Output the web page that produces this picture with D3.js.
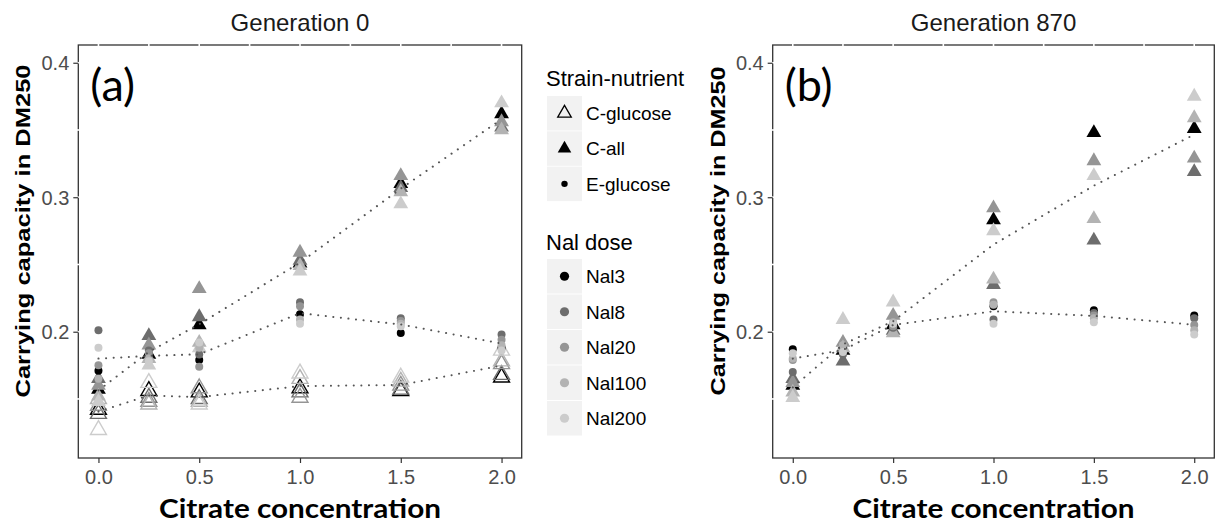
<!DOCTYPE html>
<html><head><meta charset="utf-8">
<script src="https://cdn.jsdelivr.net/npm/d3@7"></script>
<style>body{margin:0;background:#fff}svg{display:block}</style>
</head><body>
<svg id="c" width="1218" height="525"></svg>
<script>
// ---------------- data ----------------
const citrate = [0, 0.25, 0.5, 1.0, 1.5, 2.0];
const xTicks = [0, 0.5, 1.0, 1.5, 2.0];
const yTicks = [0.2, 0.3, 0.4];
const doses = ["Nal3", "Nal8", "Nal20", "Nal100", "Nal200"];
const doseColors = ["#000000", "#6d6d6d", "#959595", "#b3b3b3", "#cccccc"];
const strains = ["C-glucose", "C-all", "E-glucose"];
const panelTitles = ["Generation 0", "Generation 870"];
const panelTags = ["(a)", "(b)"];

// Generation 0
const g0_Cglucose = {
  Nal3:   [0.142, 0.156, 0.155, 0.158, 0.156, 0.166],
  Nal8:   [0.139, 0.151, 0.150, 0.155, 0.157, 0.168],
  Nal20:  [0.145, 0.148, 0.158, 0.151, 0.160, 0.176],
  Nal100: [0.150, 0.146, 0.148, 0.165, 0.163, 0.178],
  Nal200: [0.127, 0.162, 0.146, 0.169, 0.166, 0.186]
};
const g0_Call = {
  Nal3:   [0.157, 0.183, 0.205, 0.251, 0.310, 0.362],
  Nal8:   [0.165, 0.197, 0.211, 0.253, 0.307, 0.352],
  Nal20:  [0.160, 0.190, 0.232, 0.259, 0.316, 0.356],
  Nal100: [0.152, 0.180, 0.192, 0.249, 0.304, 0.350],
  Nal200: [0.148, 0.175, 0.188, 0.245, 0.295, 0.370]
};
const g0_Eglucose = {
  Nal3:   [0.171, 0.182, 0.179, 0.213, 0.199, 0.188],
  Nal8:   [0.201, 0.186, 0.183, 0.222, 0.210, 0.198],
  Nal20:  [0.175, 0.184, 0.174, 0.219, 0.208, 0.194],
  Nal100: [0.165, 0.180, 0.188, 0.209, 0.206, 0.190],
  Nal200: [0.188, 0.178, 0.192, 0.206, 0.204, 0.186]
};
// Generation 870
const g870_Call = {
  Nal3:   [0.160, 0.186, 0.205, 0.283, 0.348, 0.351],
  Nal8:   [0.165, 0.178, 0.201, 0.235, 0.268, 0.319],
  Nal20:  [0.162, 0.192, 0.212, 0.292, 0.327, 0.329],
  Nal100: [0.155, 0.188, 0.199, 0.239, 0.284, 0.359],
  Nal200: [0.151, 0.209, 0.222, 0.275, 0.316, 0.375]
};
const g870_Eglucose = {
  Nal3:   [0.187, 0.188, 0.205, 0.219, 0.216, 0.212],
  Nal8:   [0.170, 0.183, 0.203, 0.209, 0.214, 0.210],
  Nal20:  [0.179, 0.186, 0.204, 0.222, 0.212, 0.205],
  Nal100: [0.180, 0.190, 0.207, 0.220, 0.210, 0.201],
  Nal200: [0.184, 0.185, 0.206, 0.206, 0.207, 0.198]
};

const panelData = [
  [["C-glucose", g0_Cglucose], ["C-all", g0_Call], ["E-glucose", g0_Eglucose]],
  [["C-all", g870_Call], ["E-glucose", g870_Eglucose]]
];

// ---------------- layout ----------------
const svg = d3.select("#c");
const FONT = "'Liberation Sans', Arial, sans-serif";
const panels = [
  {x0: 78.3, x1: 521.7, ytitleX: 22, ytitleLen: 333},
  {x0: 772.7, x1: 1214.3, ytitleX: 717, ytitleLen: 329}
];
const yTop = 45, yBot = 458;
const y = d3.scaleLinear().domain([0.1061, 0.4132]).range([yBot, yTop]);
const color = d3.scaleOrdinal().domain(doses).range(doseColors);
const triPath = d3.symbol().type(d3.symbolTriangle).size(95)();
const triPathOpen = d3.symbol().type(d3.symbolTriangle).size(110)();
const gridX = d3.range(0, 2.01, 0.25);
const gridY = [0.15, 0.2, 0.25, 0.3, 0.35, 0.4];

function drawPoint(g, strain, cx, cy, col) {
  if (strain === "C-glucose") {
    g.append("path").attr("d", triPathOpen).attr("transform", `translate(${cx},${cy})`)
      .attr("fill", "none").attr("stroke", col).attr("stroke-width", 1.4);
  } else if (strain === "C-all") {
    g.append("path").attr("d", triPath).attr("transform", `translate(${cx},${cy})`)
      .attr("fill", col);
  } else {
    g.append("circle").attr("cx", cx).attr("cy", cy).attr("r", 4).attr("fill", col);
  }
}

panels.forEach((p, i) => {
  const x = d3.scaleLinear().domain([-0.1, 2.1]).range([p.x0, p.x1]);
  const g = svg.append("g");
  // border
  g.append("rect").attr("x", p.x0).attr("y", yTop).attr("width", p.x1 - p.x0).attr("height", yBot - yTop)
    .attr("fill", "#fff").attr("stroke", "#333").attr("stroke-width", 1.3);
  // white gridlines cutting top and left border
  gridX.forEach(v => g.append("line").attr("x1", x(v)).attr("x2", x(v)).attr("y1", yTop - 2).attr("y2", yTop + 2)
    .attr("stroke", "#fff").attr("stroke-width", 1.6));
  gridY.forEach(v => g.append("line").attr("y1", y(v)).attr("y2", y(v)).attr("x1", p.x0 - 2).attr("x2", p.x0 + 2)
    .attr("stroke", "#fff").attr("stroke-width", 1.6));
  // axes
  const xa = g.append("g").attr("transform", `translate(0,${yBot})`)
    .call(d3.axisBottom(x).tickValues(xTicks).tickFormat(d3.format(".1f")).tickSize(5).tickPadding(6));
  const ya = g.append("g").attr("transform", `translate(${p.x0},0)`)
    .call(d3.axisLeft(y).tickValues(yTicks).tickFormat(d3.format(".1f")).tickSize(5).tickPadding(4));
  [xa, ya].forEach(a => {
    a.select(".domain").remove();
    a.selectAll("line").attr("stroke", "#333").attr("stroke-width", 1.2);
    a.selectAll("text").attr("fill", "#4d4d4d").style("font-family", FONT).style("font-size", "20px");
  });
  ya.selectAll("text").attr("dy", "0.36em");
  xa.selectAll("text").attr("dy", "0.75em");
  // points
  panelData[i].forEach(([strain, tab]) => {
    doses.forEach(d => {
      tab[d].forEach((v, k) => drawPoint(g, strain, x(citrate[k]), y(v), color(d)));
    });
  });
  // mean lines
  const line = d3.line().x(d => x(d[0])).y(d => y(d[1]));
  panelData[i].forEach(([strain, tab]) => {
    const means = citrate.map((c, k) => [c, d3.mean(doses, d => tab[d][k])]);
    g.append("path").attr("d", line(means)).attr("fill", "none").attr("stroke", "#555")
      .attr("stroke-width", 2).attr("stroke-linecap", "round").attr("stroke-dasharray", "0.1,7.5");
  });
  // titles
  g.append("text").attr("x", (p.x0 + p.x1) / 2).attr("y", 31).attr("text-anchor", "middle")
    .style("font-family", FONT).style("font-size", "24px").attr("fill", "#1a1a1a").text(panelTitles[i]);
  g.append("text").attr("x", p.x0 + 12).attr("y", 101)
    .style("font-family", "Lato, 'Open Sans', sans-serif").style("font-size", "45px").attr("fill", "#000").text(panelTags[i]);
  g.append("text").attr("x", (p.x0 + p.x1) / 2).attr("y", 518).attr("text-anchor", "middle")
    .style("font-family", "Lato, 'Open Sans', sans-serif").style("font-weight", "bold").style("font-size", "26px")
    .attr("textLength", 282).attr("lengthAdjust", "spacingAndGlyphs").attr("fill", "#000").text("Citrate concentration");
  g.append("text").attr("transform", `translate(${p.ytitleX},231) rotate(-90)`).attr("text-anchor", "middle")
    .attr("dy", "0.36em")
    .style("font-family", FONT).style("font-weight", "bold").style("font-size", "21px")
    .attr("textLength", p.ytitleLen).attr("lengthAdjust", "spacingAndGlyphs").attr("fill", "#000")
    .text("Carrying capacity in DM250");
});

// ---------------- legend ----------------
const lg = svg.append("g");
const keyX = 547, keyW = 35, keyH = 34.5;
lg.append("text").attr("x", 546).attr("y", 86).style("font-family", FONT).style("font-size", "22px").attr("fill", "#000").text("Strain-nutrient");
strains.forEach((s, k) => {
  const ky = 96 + k * 35.3;
  lg.append("rect").attr("x", keyX).attr("y", ky).attr("width", keyW).attr("height", keyH).attr("fill", "#f2f2f2");
  const cx = keyX + keyW / 2, cy = ky + keyH / 2;
  if (s === "C-glucose") lg.append("path").attr("d", d3.symbol().type(d3.symbolTriangle).size(80)()).attr("transform", `translate(${cx},${cy})`).attr("fill", "none").attr("stroke", "#000").attr("stroke-width", 1.3);
  else if (s === "C-all") lg.append("path").attr("d", d3.symbol().type(d3.symbolTriangle).size(80)()).attr("transform", `translate(${cx},${cy})`).attr("fill", "#000");
  else lg.append("circle").attr("cx", cx).attr("cy", cy).attr("r", 3.2).attr("fill", "#000");
  lg.append("text").attr("x", 586).attr("y", cy).attr("dy", "0.36em").style("font-family", FONT).style("font-size", "19px").attr("fill", "#000").text(s);
});
lg.append("text").attr("x", 546).attr("y", 250).style("font-family", FONT).style("font-size", "22px").attr("fill", "#000").text("Nal dose");
doses.forEach((d, k) => {
  const ky = 259 + k * 35.5;
  lg.append("rect").attr("x", keyX).attr("y", ky).attr("width", keyW).attr("height", keyH).attr("fill", "#f2f2f2");
  const cx = keyX + keyW / 2, cy = ky + keyH / 2;
  lg.append("circle").attr("cx", cx).attr("cy", cy).attr("r", 4.6).attr("fill", color(d));
  lg.append("text").attr("x", 586).attr("y", cy).attr("dy", "0.36em").style("font-family", FONT).style("font-size", "19px").attr("fill", "#000").text(d);
});
</script>
</body></html>
